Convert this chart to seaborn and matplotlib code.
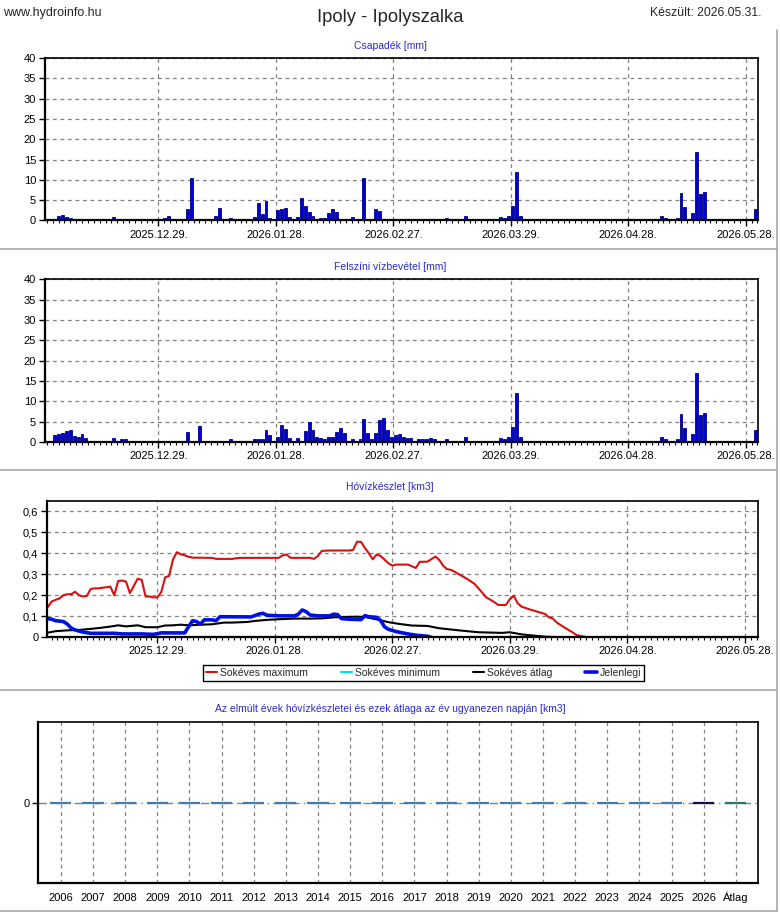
import pandas as pd
import matplotlib
matplotlib.use("Agg")
import matplotlib.pyplot as plt
import matplotlib.dates as mdates
from matplotlib.ticker import FixedLocator, MultipleLocator, FuncFormatter
from matplotlib.lines import Line2D
import seaborn as sns

sns.set_theme(style="white")
plt.rcParams.update({
    "font.family": ["Liberation Sans", "DejaVu Sans"],
    "font.size": 8,
    "axes.edgecolor": "black",
    "xtick.color": "black",
    "ytick.color": "black",
    "xtick.labelsize": 8,
    "ytick.labelsize": 8,
    "xtick.bottom": True,
    "ytick.left": True,
})

# --- data ---
precip_dates = ["2025-12-03", "2025-12-04", "2025-12-05", "2025-12-06", "2025-12-08", "2025-12-17",
                "2025-12-19", "2025-12-22", "2025-12-23", "2025-12-30", "2025-12-31", "2026-01-01",
                "2026-01-05", "2026-01-06", "2026-01-09", "2026-01-12", "2026-01-13", "2026-01-15",
                "2026-01-16", "2026-01-17", "2026-01-22", "2026-01-23", "2026-01-24", "2026-01-25",
                "2026-01-26", "2026-01-28", "2026-01-29", "2026-01-30", "2026-01-31", "2026-02-02",
                "2026-02-03", "2026-02-04", "2026-02-05", "2026-02-06", "2026-02-07", "2026-02-08",
                "2026-02-09", "2026-02-10", "2026-02-11", "2026-02-12", "2026-02-15", "2026-02-16",
                "2026-02-19", "2026-02-21", "2026-02-22", "2026-02-23", "2026-03-12", "2026-03-17",
                "2026-03-26", "2026-03-27", "2026-03-28", "2026-03-29", "2026-03-30", "2026-03-31",
                "2026-04-05", "2026-04-14", "2026-04-19", "2026-05-06", "2026-05-07", "2026-05-08",
                "2026-05-10", "2026-05-11", "2026-05-12", "2026-05-13", "2026-05-14", "2026-05-15",
                "2026-05-16", "2026-05-17", "2026-05-19", "2026-05-21", "2026-05-23", "2026-05-26",
                "2026-05-30"]
precip_mm = [1.1, 1.4, 0.9, 0.7, 0.15, 0.9,
             0.15, 0.15, 0.15, 0.6, 1.1, 0.15,
             2.9, 10.5, 0.15, 1.1, 3.1, 0.15,
             0.6, 0.15, 0.8, 4.4, 1.7, 4.9,
             0.6, 2.6, 2.8, 3.1, 0.8, 0.8,
             5.6, 3.6, 2.1, 1.1, 0.15, 0.6,
             0.6, 1.8, 2.8, 2.1, 0.15, 0.8,
             10.5, 0.15, 2.8, 2.3, 0.6, 1.1,
             0.8, 0.6, 1.1, 3.6, 11.9, 1.1,
             0.15, 0.15, 0.15, 1.1, 0.6, 0.15,
             0.6, 6.8, 3.4, 0.15, 1.8, 16.9,
             6.5, 7.0, 0.15, 0.15, 0.15, 0.15,
             2.9]

inflow_dates = ["2025-12-02", "2025-12-03", "2025-12-04", "2025-12-05", "2025-12-06", "2025-12-07",
                "2025-12-08", "2025-12-09", "2025-12-10", "2025-12-11", "2025-12-12", "2025-12-17",
                "2025-12-19", "2025-12-20", "2025-12-22", "2025-12-23", "2025-12-26", "2025-12-31",
                "2026-01-01", "2026-01-02", "2026-01-03", "2026-01-05", "2026-01-08", "2026-01-11",
                "2026-01-12", "2026-01-14", "2026-01-15", "2026-01-16", "2026-01-17", "2026-01-19",
                "2026-01-21", "2026-01-22", "2026-01-23", "2026-01-24", "2026-01-25", "2026-01-26",
                "2026-01-28", "2026-01-29", "2026-01-30", "2026-01-31", "2026-02-01", "2026-02-02",
                "2026-02-04", "2026-02-05", "2026-02-06", "2026-02-07", "2026-02-08", "2026-02-09",
                "2026-02-10", "2026-02-11", "2026-02-12", "2026-02-13", "2026-02-14", "2026-02-15",
                "2026-02-16", "2026-02-18", "2026-02-19", "2026-02-20", "2026-02-21", "2026-02-22",
                "2026-02-23", "2026-02-24", "2026-02-25", "2026-02-26", "2026-02-27", "2026-02-28",
                "2026-03-01", "2026-03-02", "2026-03-03", "2026-03-04", "2026-03-05", "2026-03-06",
                "2026-03-07", "2026-03-08", "2026-03-09", "2026-03-10", "2026-03-12", "2026-03-17",
                "2026-03-26", "2026-03-27", "2026-03-28", "2026-03-29", "2026-03-30", "2026-03-31",
                "2026-04-05", "2026-04-14", "2026-04-19", "2026-05-06", "2026-05-07", "2026-05-08",
                "2026-05-10", "2026-05-11", "2026-05-12", "2026-05-13", "2026-05-14", "2026-05-15",
                "2026-05-16", "2026-05-17", "2026-05-19", "2026-05-21", "2026-05-23", "2026-05-26",
                "2026-05-30"]
inflow_mm = [1.65, 1.9, 2.1, 2.6, 2.9, 1.4,
             1.15, 1.9, 0.9, 0.15, 0.15, 0.9,
             0.65, 0.65, 0.15, 0.15, 0.15, 0.15,
             0.15, 0.15, 0.15, 2.4, 3.85, 0.15,
             0.15, 0.15, 0.15, 0.65, 0.15, 0.15,
             0.15, 0.65, 0.65, 0.65, 2.9, 1.65,
             1.15, 4.1, 3.1, 0.9, 0.15, 0.9,
             2.6, 4.85, 2.9, 1.15, 0.9, 0.65,
             1.15, 1.15, 2.4, 3.35, 2.1, 0.15,
             0.65, 0.65, 5.6, 2.1, 0.65, 2.1,
             5.3, 5.8, 2.9, 1.15, 1.65, 1.9,
             1.15, 0.9, 0.9, 0.15, 0.65, 0.65,
             0.65, 0.9, 0.65, 0.15, 0.65, 1.15,
             0.9, 0.65, 1.15, 3.6, 12.0, 1.15,
             0.15, 0.15, 0.15, 1.15, 0.65, 0.15,
             0.65, 6.8, 3.35, 0.15, 1.9, 16.9,
             6.55, 7.05, 0.15, 0.15, 0.15, 0.15,
             2.9]

max_dates = ["2025-12-01", "2025-12-02", "2025-12-03", "2025-12-04", "2025-12-05", "2025-12-06",
             "2025-12-07", "2025-12-08", "2025-12-09", "2025-12-10", "2025-12-11", "2025-12-12",
             "2025-12-13", "2025-12-14", "2025-12-15", "2025-12-16", "2025-12-17", "2025-12-18",
             "2025-12-19", "2025-12-20", "2025-12-21", "2025-12-22", "2025-12-23", "2025-12-24",
             "2025-12-25", "2025-12-26", "2025-12-27", "2025-12-28", "2025-12-29", "2025-12-30",
             "2025-12-31", "2026-01-01", "2026-01-02", "2026-01-03", "2026-01-04", "2026-01-05",
             "2026-01-06", "2026-01-07", "2026-01-12", "2026-01-13", "2026-01-17", "2026-01-19",
             "2026-01-29", "2026-01-30", "2026-01-31", "2026-02-01", "2026-02-06", "2026-02-07",
             "2026-02-08", "2026-02-09", "2026-02-11", "2026-02-16", "2026-02-17", "2026-02-18",
             "2026-02-19", "2026-02-20", "2026-02-21", "2026-02-22", "2026-02-23", "2026-02-24",
             "2026-02-25", "2026-02-26", "2026-02-27", "2026-02-28", "2026-03-03", "2026-03-05",
             "2026-03-06", "2026-03-08", "2026-03-10", "2026-03-11", "2026-03-12", "2026-03-13",
             "2026-03-14", "2026-03-16", "2026-03-18", "2026-03-20", "2026-03-23", "2026-03-25",
             "2026-03-26", "2026-03-28", "2026-03-29", "2026-03-30", "2026-03-31", "2026-04-01",
             "2026-04-03", "2026-04-05", "2026-04-07", "2026-04-08", "2026-04-09", "2026-04-10",
             "2026-04-12", "2026-04-14", "2026-04-15", "2026-04-17", "2026-04-18"]
max_km3 = [0.143, 0.17, 0.178, 0.185, 0.20, 0.205,
           0.205, 0.217, 0.20, 0.194, 0.197, 0.23,
           0.233, 0.233, 0.236, 0.238, 0.241, 0.20,
           0.268, 0.27, 0.265, 0.21, 0.245, 0.279,
           0.273, 0.194, 0.194, 0.19, 0.19, 0.215,
           0.285, 0.292, 0.37, 0.405, 0.395, 0.39,
           0.383, 0.379, 0.378, 0.373, 0.373, 0.378,
           0.378, 0.39, 0.394, 0.378, 0.378, 0.373,
           0.387, 0.411, 0.413, 0.413, 0.416, 0.455,
           0.454, 0.425, 0.40, 0.371, 0.394, 0.387,
           0.37, 0.352, 0.341, 0.346, 0.346, 0.33,
           0.359, 0.36, 0.384, 0.368, 0.34, 0.324,
           0.321, 0.30, 0.279, 0.254, 0.19, 0.168,
           0.154, 0.154, 0.181, 0.198, 0.162, 0.146,
           0.133, 0.122, 0.111, 0.095, 0.089, 0.07,
           0.046, 0.024, 0.011, 0.003, 0.0]

min_dates = ["2025-12-01", "2026-05-31"]
min_km3 = [0.0, 0.0]

avg_dates = ["2025-12-01", "2025-12-03", "2025-12-06", "2025-12-09", "2025-12-12", "2025-12-14",
             "2025-12-17", "2025-12-19", "2025-12-21", "2025-12-24", "2025-12-26", "2025-12-29",
             "2025-12-31", "2026-01-02", "2026-01-04", "2026-01-06", "2026-01-09", "2026-01-12",
             "2026-01-15", "2026-01-17", "2026-01-21", "2026-01-23", "2026-01-26", "2026-01-29",
             "2026-02-02", "2026-02-06", "2026-02-09", "2026-02-12", "2026-02-15", "2026-02-18",
             "2026-02-20", "2026-02-24", "2026-02-26", "2026-03-01", "2026-03-04", "2026-03-08",
             "2026-03-11", "2026-03-16", "2026-03-21", "2026-03-27", "2026-03-29", "2026-04-01",
             "2026-04-03", "2026-04-07", "2026-04-12"]
avg_km3 = [0.022, 0.029, 0.033, 0.035, 0.04, 0.044,
           0.051, 0.057, 0.052, 0.057, 0.048, 0.048,
           0.056, 0.057, 0.06, 0.057, 0.06, 0.062,
           0.07, 0.07, 0.073, 0.078, 0.083, 0.086,
           0.089, 0.089, 0.09, 0.095, 0.097, 0.098,
           0.097, 0.081, 0.072, 0.063, 0.056, 0.054,
           0.043, 0.033, 0.024, 0.021, 0.024, 0.014,
           0.01, 0.003, 0.0]

cur_dates = ["2025-12-01", "2025-12-02", "2025-12-03", "2025-12-05", "2025-12-06", "2025-12-07",
             "2025-12-08", "2025-12-10", "2025-12-12", "2025-12-18", "2025-12-20", "2025-12-25",
             "2025-12-28", "2025-12-30", "2026-01-05", "2026-01-06", "2026-01-07", "2026-01-08",
             "2026-01-09", "2026-01-10", "2026-01-12", "2026-01-13", "2026-01-14", "2026-01-22",
             "2026-01-24", "2026-01-25", "2026-01-26", "2026-01-29", "2026-02-02", "2026-02-03",
             "2026-02-04", "2026-02-05", "2026-02-06", "2026-02-08", "2026-02-11", "2026-02-12",
             "2026-02-13", "2026-02-14", "2026-02-16", "2026-02-19", "2026-02-20", "2026-02-21",
             "2026-02-23", "2026-02-24", "2026-02-25", "2026-02-26", "2026-02-28", "2026-03-03",
             "2026-03-05", "2026-03-08", "2026-03-09"]
cur_km3 = [0.089, 0.086, 0.079, 0.075, 0.063, 0.044,
           0.035, 0.025, 0.019, 0.019, 0.016, 0.016,
           0.014, 0.021, 0.021, 0.051, 0.079, 0.075,
           0.063, 0.083, 0.083, 0.079, 0.098, 0.097,
           0.111, 0.114, 0.105, 0.102, 0.102, 0.11,
           0.13, 0.122, 0.106, 0.102, 0.102, 0.11,
           0.108, 0.089, 0.086, 0.084, 0.103, 0.098,
           0.095, 0.08, 0.05, 0.038, 0.027, 0.016,
           0.01, 0.005, 0.0]

tick_dates = ["2025-12-29", "2026-01-28", "2026-02-27", "2026-03-29", "2026-04-28", "2026-05-28"]

years = ["2006", "2007", "2008", "2009", "2010", "2011", "2012", "2013", "2014", "2015", "2016",
         "2017", "2018", "2019", "2020", "2021", "2022", "2023", "2024", "2025", "2026", "Átlag"]
snow_km3 = [0.0, 0.0, 0.0, 0.0, 0.0, 0.0, 0.0, 0.0, 0.0, 0.0, 0.0,
            0.0, 0.0, 0.0, 0.0, 0.0, 0.0, 0.0, 0.0, 0.0, 0.0, 0.0]

# --- styling ---
W, H = 780, 913
BAR = "#0000d6"
BAR_EDGE = "#00008b"
TITLE_BLUE = "#2a2ac8"
GRID = "#808080"
SEP = "#a8a8a8"


def box(left, top, right, bottom):
    return [left / W, 1 - bottom / H, (right - left) / W, (bottom - top) / H]


def style_axes(ax):
    for side, sp in ax.spines.items():
        sp.set_color("black")
        sp.set_linewidth(1.6 if side in ("left", "bottom") else 1.2)
        sp.set_zorder(3)
    ax.tick_params(axis="both", which="major", length=4, width=1, direction="out", pad=2)
    ax.set_xlabel("")
    ax.set_ylabel("")


def date_axis(ax, start, end):
    ax.set_xlim(pd.Timestamp(start), pd.Timestamp(end))
    ticks = mdates.date2num(pd.to_datetime(tick_dates))
    ax.xaxis.set_major_locator(FixedLocator(ticks))
    ax.xaxis.set_major_formatter(mdates.DateFormatter("%Y.%m.%d."))
    ax.xaxis.set_minor_locator(MultipleLocator(1.5, offset=ticks[0] % 1.5))
    ax.tick_params(axis="x", which="minor", length=2.5, width=0.8, direction="out")
    ax.tick_params(axis="x", which="major", pad=2.5)
    ax.grid(True, axis="both", which="major", color=GRID, linestyle=(0, (3, 3)), linewidth=0.9)
    ax.set_axisbelow(True)


fig = plt.figure(figsize=(W / 100, H / 100), dpi=100)

# header
fig.text(3 / W, 1 - 13 / H, "www.hydroinfo.hu", fontsize=9, ha="left", va="center")
fig.text(390 / W, 1 - 17 / H, "Ipoly - Ipolyszalka", fontsize=13.2, ha="center", va="center")
fig.text(762 / W, 1 - 13 / H, "Készült: 2026.05.31.", fontsize=8.8, ha="right", va="center")

# panel 1: precipitation
ax1 = fig.add_axes(box(44.5, 58, 757.7, 220.5))
ax1.bar(pd.to_datetime(precip_dates) + pd.Timedelta(hours=12), precip_mm, width=0.75,
        color=BAR, edgecolor=BAR_EDGE, linewidth=0.6, zorder=2)
ax1.set_ylim(0, 40)
ax1.set_yticks(range(0, 41, 5))
style_axes(ax1)
date_axis(ax1, "2025-11-29 22:00", "2026-05-31 02:00")
fig.text(390 / W, 1 - 46 / H, "Csapadék [mm]", color=TITLE_BLUE, fontsize=7.5, ha="center", va="center")

# panel 2: surface inflow
ax2 = fig.add_axes(box(44.5, 279.3, 757.7, 442))
ax2.bar(pd.to_datetime(inflow_dates) + pd.Timedelta(hours=12), inflow_mm, width=0.75,
        color=BAR, edgecolor=BAR_EDGE, linewidth=0.6, zorder=2)
ax2.set_ylim(0, 40)
ax2.set_yticks(range(0, 41, 5))
style_axes(ax2)
date_axis(ax2, "2025-11-29 22:00", "2026-05-31 02:00")
fig.text(390 / W, 1 - 267 / H, "Felszíni vízbevétel [mm]", color=TITLE_BLUE, fontsize=7.5,
         ha="center", va="center")

# panel 3: snow water storage
ax3 = fig.add_axes(box(46.7, 500.7, 757.7, 637.3))
sns.lineplot(x=pd.to_datetime(max_dates), y=max_km3, ax=ax3, color="#d81010", linewidth=1.5,
             label="Sokéves maximum")
sns.lineplot(x=pd.to_datetime(min_dates), y=min_km3, ax=ax3, color="#00e0e8", linewidth=1.5,
             label="Sokéves minimum")
sns.lineplot(x=pd.to_datetime(avg_dates), y=avg_km3, ax=ax3, color="black", linewidth=1.5,
             label="Sokéves átlag")
sns.lineplot(x=pd.to_datetime(cur_dates), y=cur_km3, ax=ax3, color="#0010e0", linewidth=2.6,
             label="Jelenlegi")
ax3.set_ylim(0, 0.65)
ax3.set_yticks([0, 0.1, 0.2, 0.3, 0.4, 0.5, 0.6])
ax3.yaxis.set_major_formatter(FuncFormatter(
    lambda v, p: "0" if abs(v) < 1e-9 else f"{v:.1f}".replace(".", ",")))
style_axes(ax3)
date_axis(ax3, "2025-11-30 18:00", "2026-05-31 07:00")
fig.text(390 / W, 1 - 487 / H, "Hóvízkészlet [km3]", color=TITLE_BLUE, fontsize=7.5,
         ha="center", va="center")
leg = ax3.legend(loc="center", bbox_to_anchor=(203 / W, 1 - 681 / H, 441 / W, 16 / H),
                 bbox_transform=fig.transFigure, mode="expand",
                 ncol=4, fontsize=7.5, frameon=True, fancybox=False, framealpha=1,
                 edgecolor="black", handlelength=1.1, handletextpad=0.3, columnspacing=1.0,
                 borderpad=0.25, borderaxespad=0)
leg.get_frame().set_linewidth(1.0)

# panel 4: past years on this day
ax4 = fig.add_axes(box(37.7, 721.7, 757.7, 883.3))
snow_colors = ["#2f7fc0"] * 20 + ["#0a0a50", "#1f8080"]
sns.barplot(x=years, y=snow_km3, hue=years, palette=snow_colors, legend=False, width=0.66,
            errorbar=None, ax=ax4, zorder=3)
for p in ax4.patches:
    p.set_edgecolor(p.get_facecolor())
    p.set_linewidth(1.6)
ax4.axhline(0, color=GRID, linestyle=(0, (6, 3, 1, 3)), linewidth=1.0, zorder=1)
ax4.set_xlim(-0.72, 21.68)
ax4.set_ylim(-1, 1)
ax4.set_yticks([0])
ax4.set_yticklabels(["0"])
style_axes(ax4)
ax4.tick_params(axis="x", length=0, pad=13)
for lbl in ax4.get_xticklabels():
    lbl.set_verticalalignment("baseline")
ax4.grid(True, axis="x", color=GRID, linestyle=(0, (3, 3)), linewidth=0.9)
ax4.grid(False, axis="y")
ax4.set_axisbelow(True)
fig.text(390 / W, 1 - 709 / H,
         "Az elmúlt évek hóvízkészletei és ezek átlaga az év ugyanezen napján [km3]",
         color=TITLE_BLUE, fontsize=7.5, ha="center", va="center")

# panel separators
for y in (249, 470, 690, 911):
    fig.add_artist(Line2D([0, 777 / W], [1 - y / H, 1 - y / H], color=SEP, linewidth=1.2,
                          transform=fig.transFigure))
fig.add_artist(Line2D([777 / W, 777 / W], [1 - 30 / H, 1 - 911 / H], color=SEP, linewidth=1.2,
                      transform=fig.transFigure))

fig.savefig("out.png", dpi=100)
